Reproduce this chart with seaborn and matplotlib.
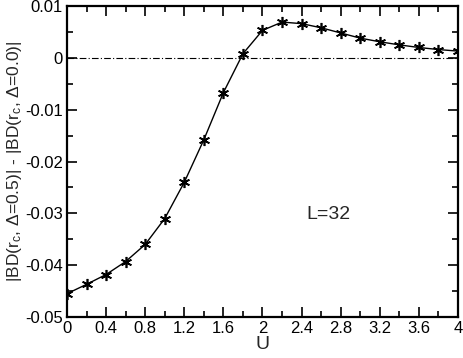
import matplotlib
matplotlib.use("Agg")

import matplotlib.pyplot as plt
import numpy as np
import pandas as pd
import seaborn as sns
from matplotlib.ticker import MultipleLocator

u_values = [0.0, 0.2, 0.4, 0.6, 0.8, 1.0, 1.2, 1.4, 1.6, 1.8, 2.0,
            2.2, 2.4, 2.6, 2.8, 3.0, 3.2, 3.4, 3.6, 3.8, 4.0]
bd_diff = [-0.0455, -0.0437, -0.0418, -0.0393, -0.0360, -0.0310, -0.0240,
           -0.0158, -0.0067, 0.0008, 0.0053, 0.0069, 0.0066, 0.0058, 0.0048,
           0.0038, 0.0031, 0.0025, 0.0020, 0.0016, 0.0013]
x_ticks = [0, 0.4, 0.8, 1.2, 1.6, 2, 2.4, 2.8, 3.2, 3.6, 4]
x_tick_labels = ["0", "0.4", "0.8", "1.2", "1.6", "2", "2.4", "2.8", "3.2", "3.6", "4"]
y_ticks = [-0.05, -0.04, -0.03, -0.02, -0.01, 0, 0.01]
y_tick_labels = ["-0.05", "-0.04", "-0.03", "-0.02", "-0.01", "0", "0.01"]

sns.set_style("ticks")
plt.rcParams["font.family"] = ["Liberation Sans", "DejaVu Sans"]
plt.rcParams["mathtext.fontset"] = "custom"
plt.rcParams["mathtext.rm"] = "Liberation Sans"
plt.rcParams["mathtext.it"] = "Liberation Sans"

df = pd.DataFrame({"U": u_values, "diff": bd_diff})

fig = plt.figure(figsize=(4.63, 3.58), dpi=100)
ax = fig.add_axes([0.1447, 0.1145, 0.8445, 0.8687])

ax.axhline(0, color="black", linestyle=(0, (6, 2, 1, 2)), linewidth=0.8)
sns.lineplot(data=df, x="U", y="diff", ax=ax, color="black", linewidth=1.0,
             marker=(6, 2, 0), markersize=8, markeredgewidth=1.2,
             markeredgecolor="black")

ax.set_xlim(0, 4)
ax.set_ylim(-0.05, 0.01)
ax.set_xticks(x_ticks)
ax.set_xticklabels(x_tick_labels)
ax.set_yticks(y_ticks)
ax.set_yticklabels(y_tick_labels)
ax.xaxis.set_minor_locator(MultipleLocator(0.2))
ax.yaxis.set_minor_locator(MultipleLocator(0.005))
ax.tick_params(which="both", direction="in", top=True, right=True,
               labelsize=12, colors="black", width=1.2, pad=3)
ax.tick_params(which="major", length=7)
ax.tick_params(which="minor", length=4)
for spine in ax.spines.values():
    spine.set_linewidth(1.6)
    spine.set_color("black")

ax.set_xlabel("U", fontsize=14, labelpad=0)
ax.set_ylabel(r"|BD(r$_c$, $\Delta$=0.5)| - |BD(r$_c$, $\Delta$=0.0)|",
              fontsize=12.5, labelpad=1)
ax.text(2.45, -0.031, "L=32", fontsize=14)

fig.savefig("out.png", dpi=100)
plt.close(fig)
